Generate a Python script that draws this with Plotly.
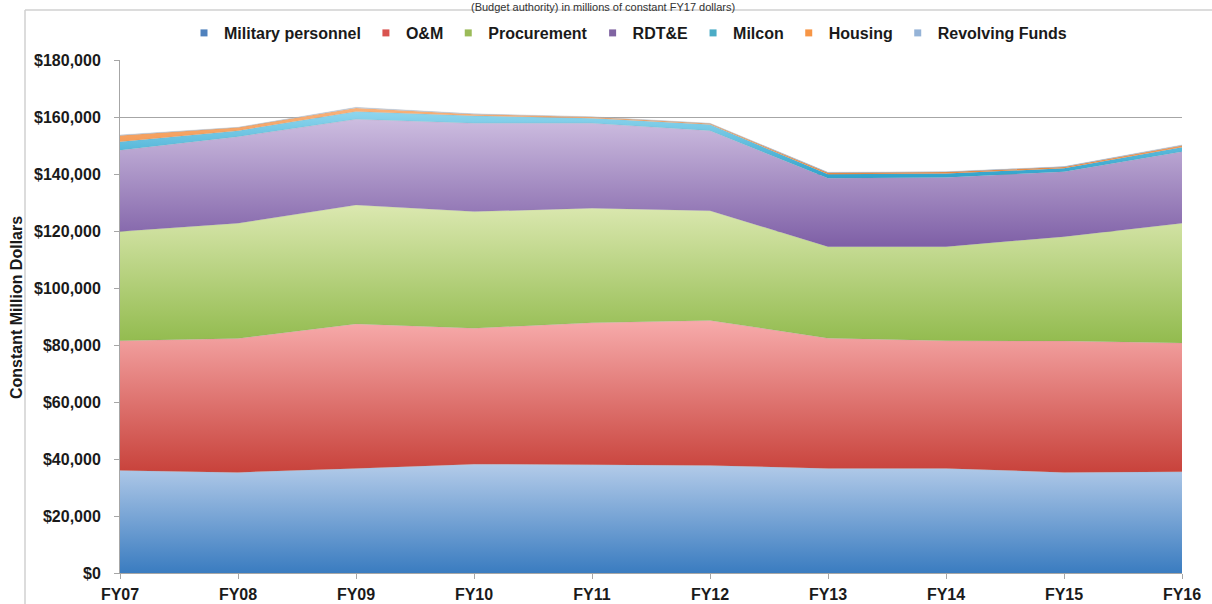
import plotly.graph_objects as go

years = ["FY07", "FY08", "FY09", "FY10", "FY11", "FY12", "FY13", "FY14", "FY15", "FY16"]

military_personnel = [36000, 35300, 36700, 38200, 38000, 37700, 36700, 36700, 35300, 35500]
om = [45500, 47000, 50700, 47700, 49800, 50900, 45700, 44800, 46100, 45200]
procurement = [38300, 40400, 41700, 40900, 40200, 38500, 32100, 33000, 36600, 42000]
rdte = [28500, 30400, 30100, 31000, 29800, 28100, 24000, 24300, 22800, 25100]
milcon = [3000, 2100, 2700, 2600, 1800, 2200, 1400, 1400, 1200, 1600]
housing = [2200, 1100, 1300, 600, 400, 300, 500, 500, 500, 600]
revolving_funds = [200, 100, 200, 100, 100, 100, 200, 100, 100, 200]

series_names = ["Military personnel", "O&M", "Procurement", "RDT&E", "Milcon", "Housing", "Revolving Funds"]
series_values = [military_personnel, om, procurement, rdte, milcon, housing, revolving_funds]

y_ticks = [0, 20000, 40000, 60000, 80000, 100000, 120000, 140000, 160000, 180000]
y_tick_labels = ["$" + format(v, ",") for v in y_ticks]

# (bottom colour, top colour, legend swatch colour)
styles = [
    ("#3a7cc0", "#b3cbe9", "#4f81bd"),
    ("#c8423b", "#f7abab", "#d9534f"),
    ("#92bb4e", "#dbe8b0", "#9bbb59"),
    ("#7e5fa6", "#cdbde0", "#8064a2"),
    ("#2fa3cc", "#8fd6ee", "#4bacc6"),
    ("#f08a3c", "#f9b27a", "#f79646"),
    ("#8fb0d8", "#c6d7ee", "#95b3d7"),
]

FONT = "Liberation Sans, Arial, sans-serif"

fig = go.Figure()

lower = [0] * len(years)
for name, vals, (c0, c1, sw) in zip(series_names, series_values, styles):
    upper = [a + b for a, b in zip(lower, vals)]
    fig.add_trace(go.Scatter(
        x=years, y=vals, name=name, stackgroup="one", mode="lines",
        line=dict(width=0.5, color="rgba(140,140,140,0.35)"),
        fillgradient=dict(type="vertical", start=min(lower), stop=max(upper),
                          colorscale=[[0, c0], [1, c1]]),
        showlegend=False, hoverinfo="x+y+name",
    ))
    lower = upper

for name, (c0, c1, sw) in zip(series_names, styles):
    fig.add_trace(go.Scatter(
        x=[None], y=[None], mode="markers", name=name,
        marker=dict(symbol="square", size=7, color=sw),
        showlegend=True,
    ))

plot_l, plot_r, plot_t, plot_b = 120, 1182, 60, 573
W, H = 1212, 604
pw, ph = plot_r - plot_l, plot_b - plot_t

def px(x):
    return (x - plot_l) / pw

def py(y):
    return (plot_b - y) / ph

fig.update_layout(
    width=W, height=H,
    margin=dict(l=plot_l, r=W - plot_r, t=plot_t, b=H - plot_b, pad=0, autoexpand=False),
    paper_bgcolor="white", plot_bgcolor="white",
    font=dict(family=FONT, color="#1a1a1a"),
    showlegend=True,
    legend=dict(
        orientation="h", x=px(628), xanchor="center", y=py(33), yanchor="middle",
        font=dict(family=FONT, size=16, weight="bold", color="#1a1a1a"),
        traceorder="normal", itemwidth=30, bgcolor="rgba(0,0,0,0)",
    ),
    xaxis=dict(
        type="category", range=[0, len(years) - 1], automargin=False,
        showline=True, linecolor="#a6a6a6", linewidth=1,
        ticks="outside", ticklen=5, tickcolor="#a6a6a6",
        tickfont=dict(family=FONT, size=16, weight="bold", color="#1a1a1a"),
        showgrid=False, zeroline=False, ticklabelstandoff=2,
    ),
    yaxis=dict(
        range=[0, 180000], tickvals=y_ticks, ticktext=y_tick_labels, automargin=False,
        showline=True, linecolor="#a6a6a6", linewidth=1,
        ticks="outside", ticklen=5, tickcolor="#a6a6a6",
        showgrid=True, gridcolor="#a6a6a6", gridwidth=1,
        tickfont=dict(family=FONT, size=16, weight="bold", color="#1a1a1a"),
        zeroline=False, ticklabelstandoff=10,
    ),
    shapes=[
        dict(type="line", xref="paper", yref="paper", x0=px(25), x1=px(25), y0=py(10), y1=py(604),
             line=dict(color="#d0d0d0", width=1.5)),
        dict(type="line", xref="paper", yref="paper", x0=px(25), x1=px(1212), y0=py(10), y1=py(10),
             line=dict(color="#d0d0d0", width=1.5)),
    ],
    annotations=[
        dict(text="Constant Million Dollars", xref="paper", yref="paper",
             x=px(16), y=py(308), xanchor="center", yanchor="middle", textangle=-90,
             showarrow=False, font=dict(family=FONT, size=16, weight="bold", color="#1a1a1a")),
        dict(text="(Budget authority) in millions of constant FY17 dollars)", xref="paper", yref="paper",
             x=px(603), y=py(-1), xanchor="center", yanchor="top",
             showarrow=False, font=dict(family=FONT, size=11, color="#333333")),
    ],
)

fig.write_html(
    "out.html",
    config={"displayModeBar": False},
    post_script="document.body.style.margin='0';document.body.style.padding='0';"
                "document.body.style.overflow='hidden';",
)
